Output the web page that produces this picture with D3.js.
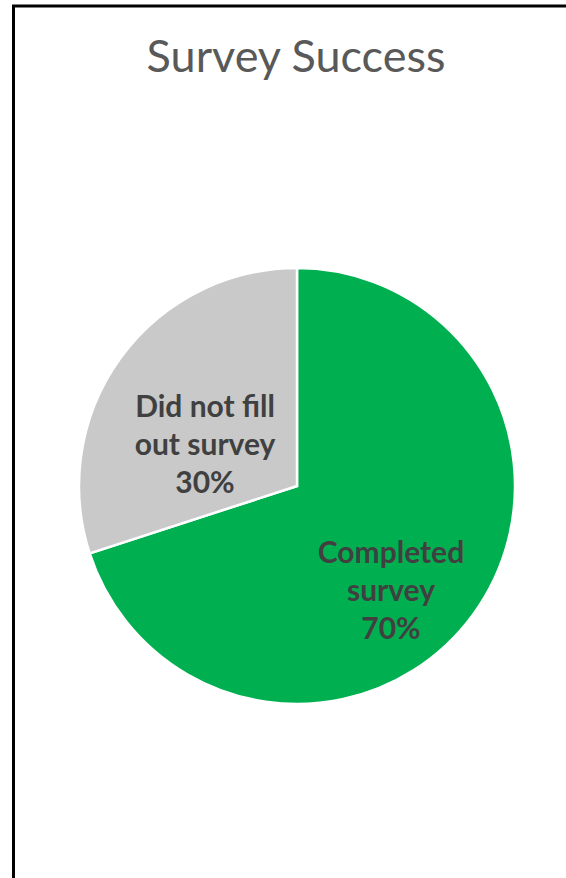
<!DOCTYPE html>
<html><head><meta charset="utf-8">
<script src="https://cdn.jsdelivr.net/npm/d3@7"></script>
<style>html,body{margin:0;padding:0;background:#fff;overflow:hidden}</style>
</head><body>
<svg id="chart" width="566" height="878"></svg>
<script>
const title = "Survey Success";
const categories = ["Completed survey", "Did not fill out survey"];
const labelLines = [["Completed", "survey"], ["Did not fill", "out survey"]];
const values = [70, 30];
const colors = ["#00B050", "#C9C9C9"];

const svg = d3.select("#chart");
const W = 566, H = 878;
svg.append("rect").attr("x", 0).attr("y", 0).attr("width", W).attr("height", H).attr("fill", "#fff");
svg.append("rect").attr("x", 13.5).attr("y", 6).attr("width", 700).attr("height", 1000)
  .attr("fill", "none").attr("stroke", "#000").attr("stroke-width", 3);

svg.append("text").attr("x", 296).attr("y", 72).attr("text-anchor", "middle")
  .attr("font-family", "Lato, 'Open Sans', sans-serif").attr("font-size", 45)
  .attr("fill", "#595959").text(title);

const cx = 297, cy = 486, R = 218;
const total = d3.sum(values);
const pie = d3.pie().sort(null).value(d => d)(values);
const arc = d3.arc().innerRadius(0).outerRadius(R);
const g = svg.append("g").attr("transform", `translate(${cx},${cy})`);
g.selectAll("path").data(pie).join("path")
  .attr("d", arc).attr("fill", (d, i) => colors[i])
  .attr("stroke", "#fff").attr("stroke-width", 2.5).attr("stroke-linejoin", "miter");

// label placement: centroid of a label arc, nudged like Excel's best fit
const labelArc = d3.arc().innerRadius(R * 0.55).outerRadius(R * 0.55);
const nudge = [[-3, 35], [5, 29]];
const fmt = d3.format(".0%");
pie.forEach((d, i) => {
  const c = labelArc.centroid(d);
  const x = c[0] + nudge[i][0], y = c[1] + nudge[i][1];
  const lines = labelLines[i].concat([fmt(d.value / total)]);
  const t = g.append("text").attr("text-anchor", "middle")
    .attr("font-family", "Lato, 'Open Sans', sans-serif").attr("font-weight", "bold")
    .attr("font-size", 30).attr("fill", "#404040");
  lines.forEach((ln, k) => {
    t.append("tspan").attr("x", x).attr("y", y + (k - 1) * 38 + 10).text(ln);
  });
});
</script>
</body></html>
